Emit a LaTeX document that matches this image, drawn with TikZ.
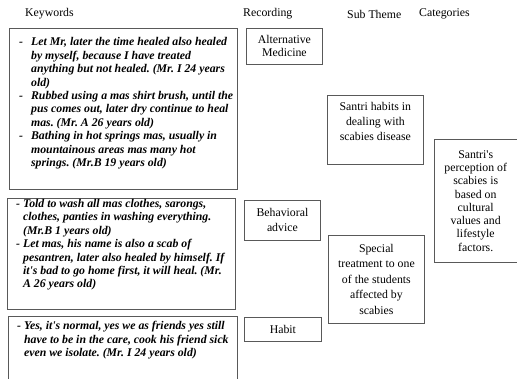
\documentclass[tikz,border=0pt]{standalone}
\usepackage{fontspec}
\setmainfont{Liberation Serif}
\usetikzlibrary{positioning}
\frenchspacing
\tikzset{box/.style={draw=black!65,line width=0.8pt,inner sep=0pt,anchor=north west}}
\tikzset{head/.style={inner sep=0pt,anchor=west,font=\fontsize{11.8}{13.4}\selectfont}}
\tikzset{kwtext/.style={inner sep=0pt,anchor=base west,font=\fontsize{11.8}{13.4}\selectfont\bfseries\itshape}}
\tikzset{plain/.style={inner sep=0pt,align=center,font=\fontsize{11.8}{#1}\selectfont},plain/.default=14}
\newcommand{\apo}{\textquotesingle}

\begin{document}
\begin{tikzpicture}[x=1pt,y=-1pt]
	    \useasboundingbox (0,0) rectangle (517,379);
	    \clip (0,0) rectangle (517,379);
	    % column heads
	    \node[head] (hkey) at (25,14) {Keywords};
	    \node[head] (hrec) at (243,14) {Recording};
	    \node[head] (hsub) at (347,14) {Sub Theme};
	    \node[head] (hcat) at (419,14) {Categories};
	    % keywords
	    \node[box,minimum width=228,minimum height=161] (kwone) at (9,28) {};
	    \node[box,minimum width=228,minimum height=111] (kwtwo) at (7,198) {};
	    \node[box,minimum width=229,minimum height=90] (kwthree) at (8,316) {};
	    \node[kwtext] (kwa) at ([shift={(10,18)}]kwone.north west) {%
		\begin{tabular}[t]{@{}l@{\hspace{8pt}}l@{}}
		    - & Let Mr, later the time healed also healed\\
		      & by myself, because I have treated\\
		      & anything but not healed. (Mr. I 24 years\\
		      & old)\\
		    - & Rubbed using a mas shirt brush, until the\\
		      & pus comes out, later dry continue to heal\\
		      & mas. (Mr. A 26 years old)\\
		    - & Bathing in hot springs mas, usually in\\
		      & mountainous areas mas many hot\\
		      & springs. (Mr.B 19 years old)
		\end{tabular}};
	    \node[kwtext] (kwb) at ([shift={(9,9.5)}]kwtwo.north west) {%
		\begin{tabular}[t]{@{}l@{\hspace{3pt}}l@{}}
		    - & Told to wash all mas clothes, sarongs,\\
		      & clothes, panties in washing everything.\\
		      & (Mr.B 1 years old)\\
		    - & Let mas, his name is also a scab of\\
		      & pesantren, later also healed by himself. If\\
		      & it\apo s bad to go home first, it will heal. (Mr.\\
		      & A 26 years old)
		\end{tabular}};
	    \node[kwtext] (kwc) at ([shift={(9,14)}]kwthree.north west) {%
		\begin{tabular}[t]{@{}l@{\hspace{3pt}}l@{}}
		    - & Yes, it\apo s normal, yes we as friends yes still\\
		      & have to be in the care, cook his friend sick\\
		      & even we isolate. (Mr. I 24 years old)
		\end{tabular}};
	    % recording
	    \node[box,plain=13,minimum width=76,minimum height=36] (altmed) at (246,28) {Alternative\\Medicine};
	    \node[box,plain=15,minimum width=76,minimum height=40] (behav) at (244,200) {Behavioral\\advice};
	    \node[box,plain,minimum width=77,minimum height=24] (habit) at (244,317) {Habit};
	    % sub theme
	    \node[box,minimum width=96,minimum height=69] (santri) at (327,95) {};
	    \node[plain=15,anchor=north] (santritext) at ([yshift=-7.5pt]santri.north) {Santri habits in\\dealing with\\scabies disease};
	    \node[box,plain=15.5,minimum width=96,minimum height=88] (special) at (328,235) {Special\\treatment to one\\of the students\\affected by\\scabies};
	    % category
	    \node[box,plain=13.3,minimum width=82.6,minimum height=123] (percep) at (434,139) {Santri\apo s\\perception of\\scabies is\\based on\\cultural\\values and\\lifestyle\\factors.};
	\end{tikzpicture}
\end{document}
